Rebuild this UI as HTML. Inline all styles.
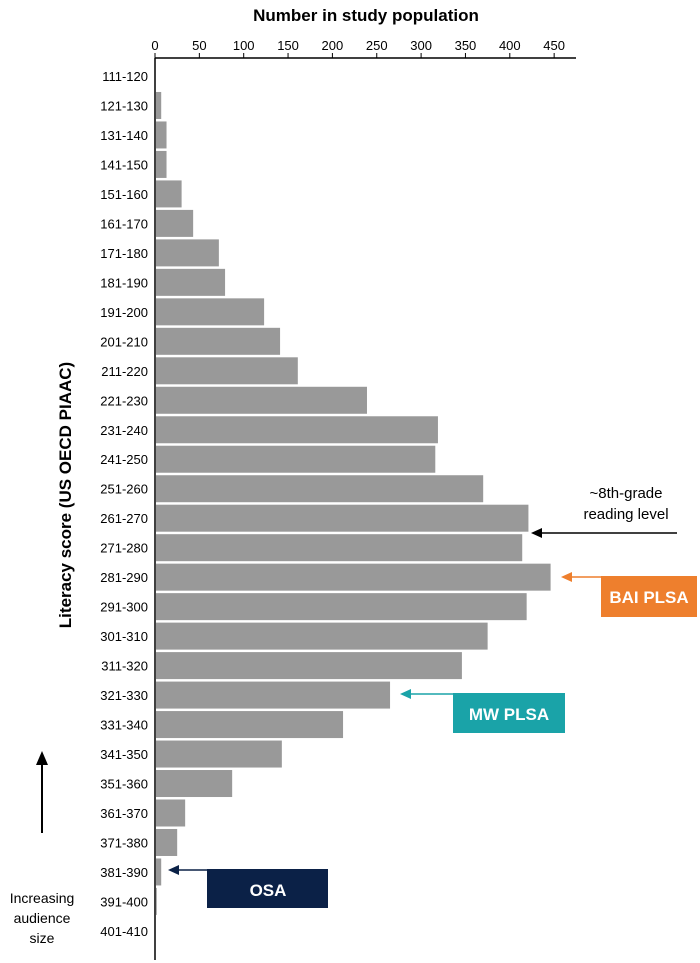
<!DOCTYPE html>
<html><head><meta charset="utf-8"><style>
body{margin:0;background:#fff;}
svg{display:block;font-family:"Liberation Sans",Arial,sans-serif;}
</style></head><body>
<svg id="chart" width="700" height="963">
<text x="366" y="21" font-size="17" font-weight="bold" text-anchor="middle">Number in study population</text>
<text transform="translate(71,495) rotate(-90)" font-size="17" font-weight="bold" text-anchor="middle">Literacy score (US OECD PIAAC)</text>
<g id="bars"></g><g id="axes"></g>
<text x="626" y="498" font-size="15" text-anchor="middle">~8th-grade</text>
<text x="626" y="519" font-size="15" text-anchor="middle">reading level</text>
<line x1="677" y1="533" x2="540" y2="533" stroke="#000" stroke-width="1.5"/>
<polygon points="531,533 542,528 542,538" fill="#000"/>
<rect x="601" y="576" width="96" height="41" fill="#ee7f2d"/>
<text x="649" y="603" font-size="17" font-weight="bold" fill="#fff" text-anchor="middle">BAI PLSA</text>
<line x1="602" y1="577" x2="570" y2="577" stroke="#ee7f2d" stroke-width="1.5"/>
<polygon points="561,577 572,572 572,582" fill="#ee7f2d"/>
<rect x="453" y="693" width="112" height="40" fill="#1aa3a8"/>
<text x="509" y="720" font-size="17" font-weight="bold" fill="#fff" text-anchor="middle">MW PLSA</text>
<line x1="454" y1="694" x2="409" y2="694" stroke="#1aa3a8" stroke-width="1.5"/>
<polygon points="400,694 411,689 411,699" fill="#1aa3a8"/>
<rect x="207" y="869" width="121" height="39" fill="#0b2147"/>
<text x="268" y="896" font-size="17" font-weight="bold" fill="#fff" text-anchor="middle">OSA</text>
<line x1="210" y1="870" x2="176" y2="870" stroke="#0b2147" stroke-width="1.5"/>
<polygon points="168,870 179,865 179,875" fill="#0b2147"/>
<line x1="42" y1="833" x2="42" y2="762" stroke="#000" stroke-width="2"/>
<polygon points="42,751 36,765 48,765" fill="#000"/>
<text font-size="14" text-anchor="middle"><tspan x="42" y="903">Increasing</tspan><tspan x="42" y="923">audience</tspan><tspan x="42" y="943">size</tspan></text>
</svg>
<script>
const categories=["111-120","121-130","131-140","141-150","151-160","161-170","171-180","181-190","191-200","201-210","211-220","221-230","231-240","241-250","251-260","261-270","271-280","281-290","291-300","301-310","311-320","321-330","331-340","341-350","351-360","361-370","371-380","381-390","391-400","401-410"];
const values=[0,7,13,13,30,43,72,79,123,141,161,239,319,316,370,421,414,446,419,375,346,265,212,143,87,34,25,7,2,0];
const ticks=[0,50,100,150,200,250,300,350,400,450];
const NS="http://www.w3.org/2000/svg";
const x0=155,kx=0.887,y0=76,pitch=29.48;
const xs=v=>x0+v*kx, ys=i=>y0+i*pitch;
const bars=document.getElementById('bars'),axes=document.getElementById('axes');
function mk(t,a,p){const e=document.createElementNS(NS,t);for(const k in a)e.setAttribute(k,a[k]);p.appendChild(e);return e;}
categories.forEach((c,i)=>{
  const r=mk('rect',{x:x0+1,y:ys(i)-13.5,width:Math.max(0,xs(values[i])-x0-1),height:27,fill:'#999'},bars);
  
  
  const t=mk('text',{x:148,y:ys(i)+5,'font-size':13,'text-anchor':'end'},axes);
  t.textContent=c;
  
  
});
const ax=mk('line',{x1:x0,y1:58,x2:576,y2:58,stroke:'#000','stroke-width':1.5},axes);


const ay=mk('line',{x1:x0,y1:58,x2:x0,y2:960,stroke:'#000','stroke-width':1.5},axes);


ticks.forEach(v=>{
  mk('line',{x1:xs(v),y1:53,x2:xs(v),y2:58,stroke:'#000'},axes);
  const t=mk('text',{x:xs(v),y:50,'font-size':13,'text-anchor':'middle'},axes);
  t.textContent=v;
  
  
});
</script>
</body></html>
